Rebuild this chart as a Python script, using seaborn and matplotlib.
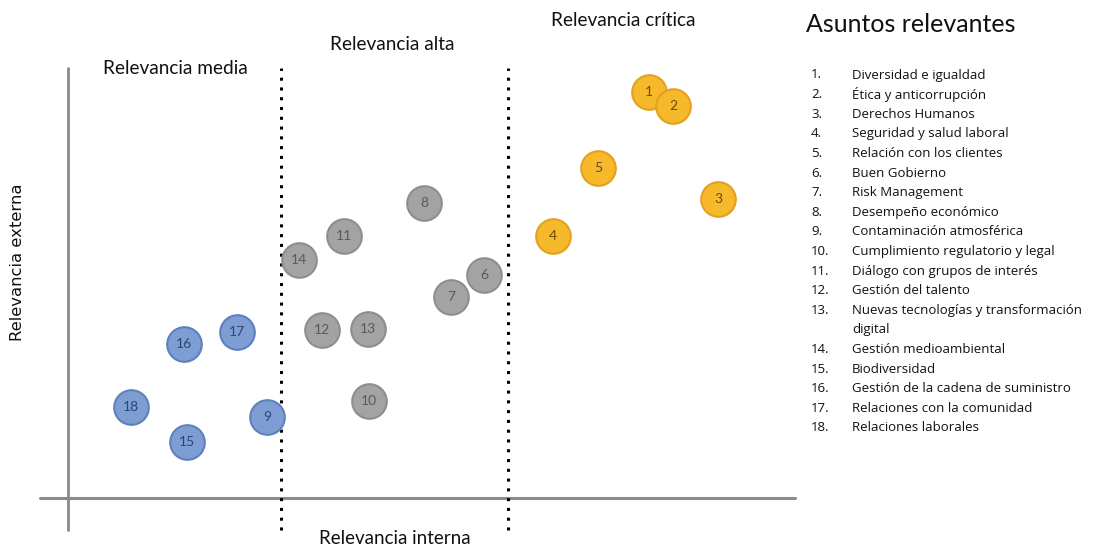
import matplotlib
matplotlib.use("Agg")
import matplotlib.pyplot as plt
import seaborn as sns
import pandas as pd

sns.set_theme(style="white")
plt.rcParams['font.family'] = ['Lato', 'DejaVu Sans']

# puntos de la matriz (relevancia interna, relevancia externa)
ids = list(range(1, 19))
interna = [581, 605, 650, 485, 530, 416, 383, 356, 199, 301, 276, 254, 300, 231, 119, 116, 169, 63]
externa = [406, 392, 299, 262, 330, 223, 201, 295, 81, 97, 262, 168, 169, 238, 56, 154, 166, 91]
grupo = ["critica"] * 5 + ["alta"] * 3 + ["media"] + ["alta"] * 5 + ["media"] * 4

asuntos = [
    "Diversidad e igualdad",
    "Ética y anticorrupción",
    "Derechos Humanos",
    "Seguridad y salud laboral",
    "Relación con los clientes",
    "Buen Gobierno",
    "Risk Management",
    "Desempeño económico",
    "Contaminación atmosférica",
    "Cumplimiento regulatorio y legal",
    "Diálogo con grupos de interés",
    "Gestión del talento",
    "Nuevas tecnologías y transformación\ndigital",
    "Gestión medioambiental",
    "Biodiversidad",
    "Gestión de la cadena de suministro",
    "Relaciones con la comunidad",
    "Relaciones laborales",
]

df = pd.DataFrame({"id": ids, "interna": interna, "externa": externa, "grupo": grupo})

relleno = {"critica": "#F6B92B", "alta": "#A3A3A3", "media": "#7E9ED3"}
borde = {"critica": "#E2A11E", "alta": "#8E8E8E", "media": "#5E80BE"}
texto = {"critica": "#6B4E0E", "alta": "#5A5A5A", "media": "#2E4570"}

fig = plt.figure(figsize=(11.01, 5.47), dpi=100)
ax = fig.add_axes([0, 0, 1, 1])
ax.set_xlim(-68, 1101 - 68)
ax.set_ylim(-49, 498)
ax.axis("off")

# ejes y divisiones
ax.plot([-28, 727], [0, 0], color="#8A8A8A", lw=2.2, zorder=1)
ax.plot([0, 0], [-32, 430], color="#8A8A8A", lw=2, zorder=1)
for xv in [213, 440]:
    ax.plot([xv, xv], [-32, 430], color="black", lw=2.2, linestyle=(0, (1, 2.2)), zorder=1)

for g in ["critica", "alta", "media"]:
    sub = df[df["grupo"] == g]
    sns.scatterplot(data=sub, x="interna", y="externa", ax=ax, s=620,
                    color=relleno[g], edgecolor=borde[g], linewidth=1.5,
                    legend=False, zorder=3)
    for _, r in sub.iterrows():
        ax.text(r["interna"], r["externa"], str(r["id"]), ha="center", va="center",
                fontsize=10, color=texto[g], zorder=4)

ax.text(107, 430, "Relevancia media", ha="center", va="center", fontsize=13.7, color="#111111")
ax.text(324, 453, "Relevancia alta", ha="center", va="center", fontsize=13.7, color="#111111")
ax.text(555, 477, "Relevancia crítica", ha="center", va="center", fontsize=13.7, color="#111111")
ax.text(327, -40, "Relevancia interna", ha="center", va="center", fontsize=13.5, color="#111111")
ax.text(-50, 236, "Relevancia externa", ha="center", va="center", rotation=90,
        fontsize=11.8, color="#111111", family="DejaVu Sans")

# lista de asuntos
ax.text(738, 473, "Asuntos relevantes", ha="left", va="center", fontsize=18, color="#111111")
fila = 423
paso = 19.6
for i, a in enumerate(asuntos, start=1):
    ax.text(743, fila, f"{i}.", ha="left", va="center", fontsize=9.5, color="#111111",
            family="Open Sans")
    for linea in a.split("\n"):
        ax.text(784, fila, linea, ha="left", va="center", fontsize=9.5, color="#111111",
                family="Open Sans")
        fila -= paso

fig.savefig("out.png", dpi=100)
